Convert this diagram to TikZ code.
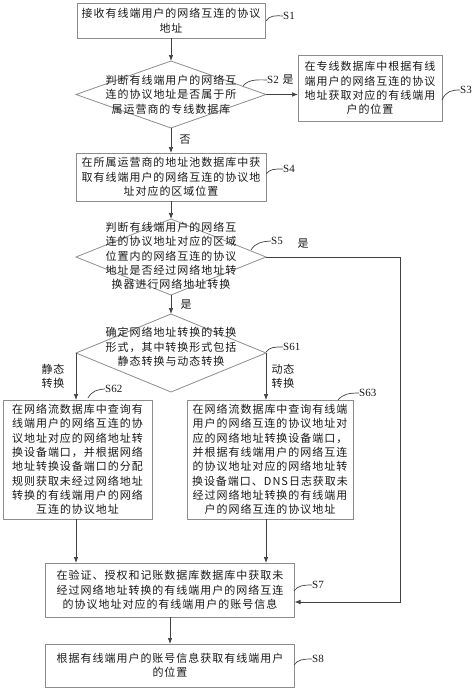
\documentclass[tikz,border=0pt]{standalone}
\usepackage{fontspec}
\setmainfont{Liberation Serif}
\newfontfamily\cjk[LetterSpace=9]{Noto Sans CJK SC}
\usetikzlibrary{shapes.geometric,arrows.meta}
\begin{document}
\begin{tikzpicture}[x=1pt,y=-1pt,
  box/.style={draw=black!45, line width=0.8pt, inner sep=0pt, outer sep=0pt, align=center,
    font=\cjk\fontsize{11}{14.3}\selectfont, text=black!90},
  dia/.style={diamond, draw=black!45, line width=0.8pt, inner sep=0pt, outer sep=0pt},
  txt/.style={align=center, inner sep=0pt, font=\cjk\fontsize{11}{14.3}\selectfont, text=black!90},
  arr/.style={-{Latex[length=6pt,width=4.5pt]}, black!75, line width=0.7pt},
  lead/.style={black!75, line width=0.7pt},
  steplbl/.style={anchor=west, inner sep=0pt, font=\fontsize{11}{13}\selectfont, text=black!90}
]
\useasboundingbox (0,0) rectangle (474,688);

% boxes and diamonds
\node[box, minimum width=188pt, minimum height=35pt] (s1) at (171,20.5) {接收有线端用户的网络互连的协议\\地址};
\node[dia, minimum width=190pt, minimum height=67pt] (s2) at (171,94.5) {};
\node[txt] (s2t) at (171,94.5) {判断有线端用户的网络互\\连的协议地址是否属于所\\属运营商的专线数据库};
\node[box, minimum width=144pt, minimum height=66pt] (s3) at (370,88) {在专线数据库中根据有线\\端用户的网络互连的协议\\地址获取对应的有线端用\\户的位置};
\node[box, minimum width=190pt, minimum height=48pt] (s4) at (171,177) {在所属运营商的地址池数据库中获\\取有线端用户的网络互连的协议地\\址对应的区域位置};
\node[dia, minimum width=190pt, minimum height=76pt] (s5) at (171,257) {};
\node[txt] (s5t) at (171,256) {判断有线端用户的网络互\\连的协议地址对应的区域\\位置内的网络互连的协议\\地址是否经过网络地址转\\换器进行网络地址转换};
\node[dia, minimum width=190pt, minimum height=78pt] (s61) at (171,353) {};
\node[txt] (s61t) at (171,347) {确定网络地址转换的转换\\形式，其中转换形式包括\\静态转换与动态转换};
\node[box, minimum width=149pt, minimum height=119pt] (s62) at (77.5,459.5) {在网络流数据库中查询有\\线端用户的网络互连的协\\议地址对应的网络地址转\\换设备端口，并根据网络\\地址转换设备端口的分配\\规则获取未经过网络地址\\转换的有线端用户的网络\\互连的协议地址};
\node[box, minimum width=166pt, minimum height=119pt] (s63) at (270,459.5) {在网络流数据库中查询有线端\\用户的网络互连的协议地址对\\应的网络地址转换设备端口，\\并根据有线端用户的网络互连\\的协议地址对应的网络地址转\\换设备端口、DNS日志获取未\\经过网络地址转换的有线端用\\户的网络互连的协议地址};
\node[box, minimum width=249pt, minimum height=54pt] (s7) at (170,590) {在验证、授权和记账数据库数据库中获取未\\经过网络地址转换的有线端用户的网络互连\\的协议地址对应的有线端用户的账号信息};
\node[box, minimum width=249pt, minimum height=43pt] (s8) at (170,665.5) {根据有线端用户的账号信息获取有线端用户\\的位置};

% connectors
\draw[arr] (s1.south) -- (s2.north);
\draw[arr] (s2.east) -- (s2.east -| s3.west);
\draw[arr] (s2.south) -- (s4.north);
\draw[arr] (s4.south) -- (s5.north);
\coordinate (loopa) at (400,257);
\coordinate (loopb) at (400,602);
\draw[arr] (s5.east) -- (loopa) -- (loopb) -- (s7.east |- loopb);
\draw[arr] (s5.south) -- (s61.north);
\draw[arr] (s61.west) -- (s61.west |- s62.north);
\draw[arr] (s61.east) -- (s61.east |- s63.north);
\draw[arr] (s61.west |- s62.south) -- (s61.west |- s7.north);
\draw[arr] (s61.east |- s63.south) -- (s61.east |- s7.north);
\draw[arr] (s7.south) -- (s8.north);

% branch labels
\node[txt] (no2) at (185,140) {否};
\node[txt] (yes2) at (288,80) {是};
\node[txt] (yes5r) at (303,244) {是};
\node[txt] (yes5d) at (186,305) {是};
\node[txt] (stat) at (53,376) {静态\\转换};
\node[txt] (dyn) at (283,376) {动态\\转换};

% step labels with leaders
\node[steplbl] (l1) at (283,16) {S1};
\draw[lead] (266,21) .. controls (270,15.5) and (274,15.5) .. (l1.west);
\node[steplbl] (l2) at (267,80) {S2};
\draw[lead] (243,86) .. controls (248,80) and (255,79.5) .. (l2.west);
\node[steplbl] (l3) at (460,90) {S3};
\draw[lead] (442,100) .. controls (446,91) and (452,90) .. (l3.west);
\node[steplbl] (l4) at (283,169) {S4};
\draw[lead] (266,174) .. controls (270,169) and (274,169) .. (l4.west);
\node[steplbl] (l5) at (271,241) {S5};
\draw[lead] (251,250) .. controls (255,243) and (262,241.5) .. (l5.west);
\node[steplbl] (l61) at (283,347) {S61};
\draw[lead] (266,352) .. controls (270,347) and (274,347) .. (l61.west);
\node[steplbl] (l62) at (105,389) {S62};
\draw[lead] (88,398) .. controls (92,391) and (97,389.5) .. (l62.west);
\node[steplbl] (l63) at (359,393) {S63};
\draw[lead] (338,400) .. controls (343,394) and (349,393) .. (l63.west);
\node[steplbl] (l7) at (312,585) {S7};
\draw[lead] (294,591) .. controls (298,585.5) and (303,585) .. (l7.west);
\node[steplbl] (l8) at (312,659) {S8};
\draw[lead] (294,665) .. controls (298,659.5) and (303,659) .. (l8.west);
\end{tikzpicture}
\end{document}
